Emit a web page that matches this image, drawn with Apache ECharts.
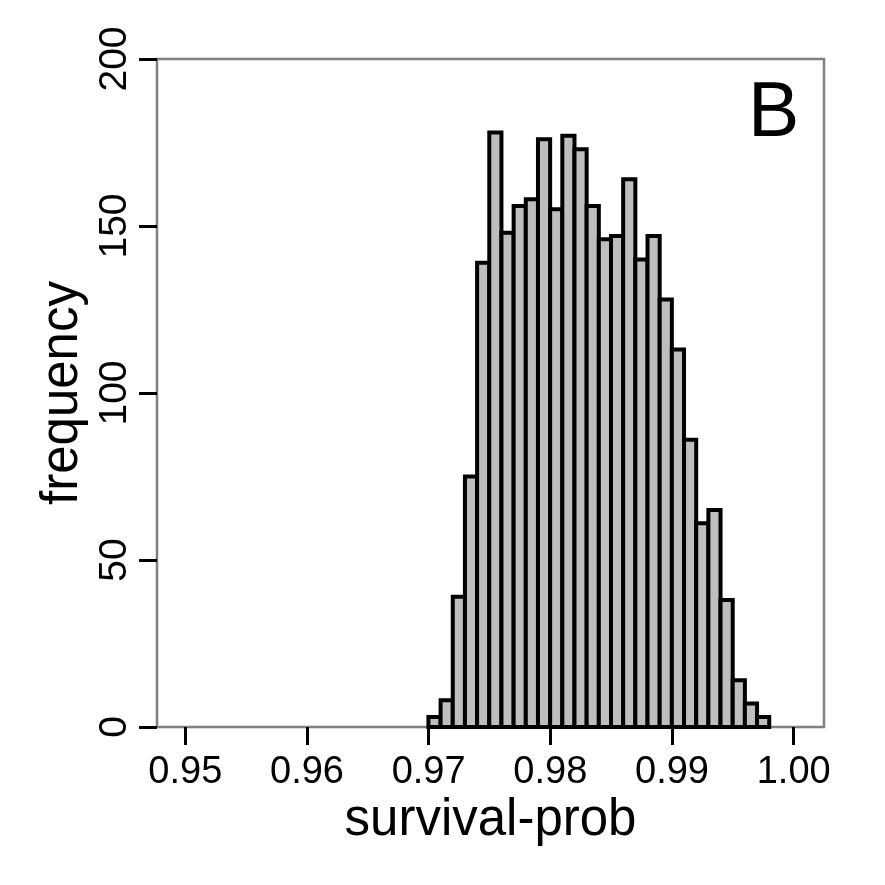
<!DOCTYPE html>
<html>
<head>
<meta charset="utf-8">
<script src="https://cdn.jsdelivr.net/npm/echarts@6/dist/echarts.min.js"></script>
<style>
html,body{margin:0;padding:0;background:#fff;}
#chart{width:885px;height:885px;}
</style>
</head>
<body>
<div id="chart"></div>
<script>
// Histogram bin edges (survival-prob) and counts
var binEdges = [0.970, 0.971, 0.972, 0.973, 0.974, 0.975, 0.976, 0.977, 0.978, 0.979,
                0.980, 0.981, 0.982, 0.983, 0.984, 0.985, 0.986, 0.987, 0.988, 0.989,
                0.990, 0.991, 0.992, 0.993, 0.994, 0.995, 0.996, 0.997, 0.998];
var counts = [3, 8, 39, 75, 139, 178, 148, 156, 158, 176,
              155, 177, 173, 156, 146, 147, 164, 140, 147, 128,
              113, 86, 61, 65, 38, 14, 7, 3];
var xTickLabels = ['0.95', '0.96', '0.97', '0.98', '0.99', '1.00'];
var yTickLabels = ['0', '50', '100', '150', '200'];
var xName = 'survival-prob';
var yName = 'frequency';
var panelLabel = 'B';

var FONT = '"Liberation Sans", Arial, Helvetica, sans-serif';
var data = counts.map(function (c, i) { return [binEdges[i], binEdges[i + 1], c]; });

var chart = echarts.init(document.getElementById('chart'), null, {renderer: 'canvas'});
chart.setOption({
  animation: false,
  backgroundColor: '#ffffff',
  grid: [
    {left: 157, top: 59, width: 667, height: 668, show: true, borderColor: '#808080', borderWidth: 2.5, backgroundColor: 'transparent'},
    {left: 185.3, top: 59, width: 608.4, height: 668, show: false}
  ],
  xAxis: [
    {gridIndex: 0, type: 'value', min: 0.9477, max: 1.0025, axisLine: {show: false}, axisTick: {show: false},
     axisLabel: {show: false}, splitLine: {show: false},
     name: xName, nameLocation: 'middle', nameGap: 68,
     nameTextStyle: {fontFamily: FONT, fontSize: 51, color: '#000'}},
    {gridIndex: 1, type: 'value', min: 0.95, max: 1.00, interval: 0.01,
     axisLine: {show: false}, splitLine: {show: false},
     axisTick: {show: true, inside: false, length: 18, lineStyle: {color: '#000', width: 3}},
     axisLabel: {show: true, margin: 27, fontFamily: FONT, fontSize: 38, color: '#000',
       formatter: function (v) {
         var idx = Math.round((v - 0.95) / 0.01);
         return xTickLabels[idx] !== undefined ? xTickLabels[idx] : v.toFixed(2);
       }}}
  ],
  yAxis: [
    {gridIndex: 0, type: 'value', min: 0, max: 200, interval: 50,
     axisLine: {show: false}, splitLine: {show: false},
     axisTick: {show: true, inside: false, length: 18, lineStyle: {color: '#000', width: 3}},
     axisLabel: {show: true, rotate: 90, margin: 22, fontFamily: FONT, fontSize: 39, color: '#000',
       formatter: function (v) { var idx = Math.round(v / 50); return yTickLabels[idx] !== undefined ? yTickLabels[idx] : String(v); }},
     name: yName, nameLocation: 'middle', nameGap: 62, nameRotate: 90,
     nameTextStyle: {fontFamily: FONT, fontSize: 51, color: '#000'}},
    {gridIndex: 1, type: 'value', min: 0, max: 200, show: false}
  ],
  series: [{
    type: 'custom',
    xAxisIndex: 0,
    yAxisIndex: 0,
    data: data,
    renderItem: function (params, api) {
      var p0 = api.coord([api.value(0), api.value(2)]);
      var p1 = api.coord([api.value(1), 0]);
      return {
        type: 'rect',
        shape: {x: p0[0], y: p0[1], width: p1[0] - p0[0], height: p1[1] - p0[1]},
        style: {fill: '#BEBEBE', stroke: '#000', lineWidth: 4}
      };
    },
    encode: {x: [0, 1], y: 2}
  }],
  graphic: [{
    type: 'text', left: 748, top: 76,
    style: {text: panelLabel, fontFamily: FONT, fontSize: 77, fill: '#000'}
  }]
});
</script>
</body>
</html>
